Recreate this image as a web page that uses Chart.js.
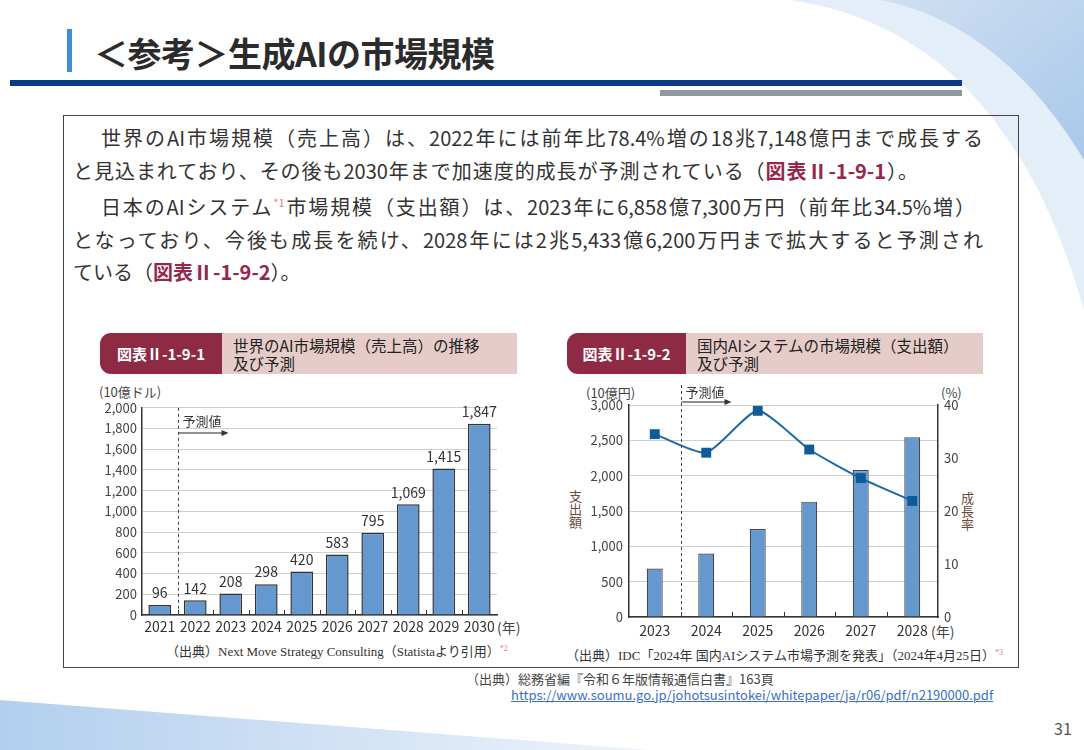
<!DOCTYPE html>
<html lang="ja">
<head>
<meta charset="utf-8">
<script src="https://cdn.jsdelivr.net/npm/chart.js@4.4.1/dist/chart.umd.min.js"></script>
<style>
  html, body { margin: 0; padding: 0; }
  body { width: 1084px; height: 750px; position: relative; overflow: hidden; background: #fff;
         font-family: "Noto Sans CJK JP", "Noto Sans", sans-serif; color: #333; }
  .abs { position: absolute; white-space: nowrap; }
  .line { position: absolute; font-size: 20px; line-height: 28px; color: #333; white-space: nowrap; }
  .just { text-align: justify; text-align-last: justify; }
  .ref { color: #95284a; font-weight: bold; }
  .note { color: #e07c8c; font-size: 11px; position: relative; top: -8px; }
  .tag { position: absolute; background: #8f2a45; color: #fff; font-weight: bold; font-size: 15px;
         border-radius: 11px 0 0 11px; display: flex; align-items: center; justify-content: center; }
  .cap { position: absolute; background: #e6ccc8; color: #222; font-size: 15.5px; line-height: 18px;
         padding: 3px 0 0 11px; box-sizing: border-box; }
  .src { font-size: 13px; color: #333; font-family: 'Liberation Serif', 'Noto Sans CJK JP', serif; }
  canvas { position: absolute; }
</style>
</head>
<body>
<svg class="abs" style="left:0;top:0" width="1084" height="750">
  <defs>
    <linearGradient id="gtr" x1="0" y1="0" x2="1" y2="1">
      <stop offset="0" stop-color="#cfe0f2"/>
      <stop offset="1" stop-color="#a9c8e9"/>
    </linearGradient>
    <linearGradient id="gbl" x1="0" y1="0" x2="1" y2="0">
      <stop offset="0" stop-color="#b2cfee"/>
      <stop offset="1" stop-color="#eef4fb"/>
    </linearGradient>
  </defs>
  <path d="M 790 0 C 930 20 1030 120 1084 310 L 1084 0 Z" fill="#e4eef8"/>
  <path d="M 880 0 C 960 15 1030 70 1084 160 L 1084 0 Z" fill="url(#gtr)"/>
  <path d="M 0 700 L 650 750 L 0 750 Z" fill="url(#gbl)"/>
</svg>

<!-- header -->
<div class="abs" style="left:67px;top:29px;width:5px;height:43px;background:#3d8fd1"></div>
<div class="abs" style="left:94px;top:28px;font-size:34px;font-weight:bold;color:#2b2b2b;letter-spacing:-0.5px">＜参考＞生成AIの市場規模</div>
<div class="abs" style="left:10px;top:80px;width:952px;height:6px;background:#0b3a85"></div>
<div class="abs" style="left:660px;top:90px;width:302px;height:6px;background:#8e999f"></div>

<!-- frame -->
<div class="abs" style="left:63px;top:115px;width:956px;height:553px;border:1px solid #444;box-sizing:border-box"></div>

<div class="line just" style="left:79px;top:124px;width:904px">　世界のAI市場規模（売上高）は、2022年には前年比78.4%増の18兆7,148億円まで成長する</div>
<div class="line just" style="left:73px;top:157px;width:845px">と見込まれており、その後も2030年まで加速度的成長が予測されている（<span class="ref">図表Ⅱ-1-9-1</span>）。</div>
<div class="line just" style="left:79px;top:193px;width:896px">　日本のAIシステム<span class="note">*1</span>市場規模（支出額）は、2023年に6,858億7,300万円（前年比34.5%増）</div>
<div class="line just" style="left:73px;top:226px;width:910px">となっており、今後も成長を続け、2028年には2兆5,433億6,200万円まで拡大すると予測され</div>
<div class="line" style="left:73px;top:258px">ている（<span class="ref">図表Ⅱ-1-9-2</span>）。</div>

<!-- chart headings -->
<div class="tag" style="left:100px;top:333px;width:122px;height:41px">図表Ⅱ-1-9-1</div>
<div class="cap" style="left:222px;top:333px;width:295px;height:41px">世界のAI市場規模（売上高）の推移<br>及び予測</div>
<div class="tag" style="left:567px;top:333px;width:119px;height:41px">図表Ⅱ-1-9-2</div>
<div class="cap" style="left:686px;top:333px;width:297px;height:41px">国内AIシステムの市場規模（支出額）<br>及び予測</div>

<!-- axis units -->
<div class="abs" style="left:99px;top:382px;font-size:13px;color:#444">(10億ドル)</div>
<div class="abs" style="left:497px;top:617px;font-size:14px;color:#444">(年)</div>
<div class="abs" style="left:586px;top:383px;font-size:13px;color:#444">(10億円)</div>
<div class="abs" style="left:941px;top:383px;font-size:13px;color:#444">(%)</div>
<div class="abs" style="left:569px;top:490px;font-size:13px;line-height:13px;color:#6b4a3a;writing-mode:vertical-rl">支出額</div>
<div class="abs" style="left:961px;top:492px;font-size:13px;line-height:13px;color:#6b4a3a;writing-mode:vertical-rl">成長率</div>
<div class="abs" style="left:931px;top:621px;font-size:14px;color:#444">(年)</div>

<canvas id="chartWorld" width="410" height="245" style="left:95px;top:395px"></canvas>
<canvas id="chartJapan" width="378" height="262" style="left:590px;top:378px"></canvas>

<!-- sources -->
<div class="abs src" style="left:166px;top:641px">（出典）Next Move Strategy Consulting（Statistaより引用）<span style="color:#e07c8c;font-size:8px;position:relative;top:-5px">*2</span></div>
<div class="abs src" style="left:566px;top:645px">（出典）IDC「2024年 国内AIシステム市場予測を発表」（2024年4月25日）<span style="color:#e07c8c;font-size:8px;position:relative;top:-5px">*3</span></div>
<div class="abs" style="left:466px;top:669px;font-size:13px;color:#444">（出典）総務省編『令和６年版情報通信白書』163頁</div>
<div class="abs" style="left:511px;top:685px;font-size:13px;color:#3a6fc4;text-decoration:underline">https://www.soumu.go.jp/johotsusintokei/whitepaper/ja/r06/pdf/n2190000.pdf</div>
<div class="abs" style="left:1054px;top:716px;font-size:16px;color:#555">31</div>

<script>
// 図表Ⅱ-1-9-1
const worldYears = ['2021', '2022', '2023', '2024', '2025', '2026', '2027', '2028', '2029', '2030'];
const worldSales = [96, 142, 208, 298, 420, 583, 795, 1069, 1415, 1847];
const worldTicks = [0, 200, 400, 600, 800, 1000, 1200, 1400, 1600, 1800, 2000];

// 図表Ⅱ-1-9-2
const japanYears = ['2023', '2024', '2025', '2026', '2027', '2028'];
const japanSpend = [686, 898, 1245, 1632, 2080, 2543];
const japanGrowth = [34.5, 31.0, 38.9, 31.6, 26.2, 21.9];
const japanSpendTicks = [0, 500, 1000, 1500, 2000, 2500, 3000];
const japanGrowthTicks = [0, 10, 20, 30, 40];

const FONT = '"Noto Sans CJK JP", "Noto Sans", sans-serif';
const tickFont = { family: FONT, size: 13 };

function fmt(v) { return Number(v).toLocaleString('en-US'); }

// 予測値の破線・矢印、区切りの目盛り
function forecastPlugin(lineTop, textY, arrowY, labels) {
  return {
    id: 'forecast',
    afterDatasetsDraw(chart) {
      const { ctx, chartArea, scales } = chart;
      const x = scales.x;
      ctx.save();
      // category boundary marks
      ctx.strokeStyle = '#333';
      ctx.lineWidth = 1;
      for (let i = 1; i < chart.data.labels.length; i++) {
        const bx = Math.round((x.getPixelForValue(i - 1) + x.getPixelForValue(i)) / 2) + 0.5;
        ctx.beginPath();
        ctx.moveTo(bx, chartArea.bottom);
        ctx.lineTo(bx, chartArea.bottom - 5);
        ctx.stroke();
      }
      const dx = Math.round((x.getPixelForValue(0) + x.getPixelForValue(1)) / 2) + 0.5;
      ctx.setLineDash([3, 3]);
      ctx.strokeStyle = '#444';
      ctx.beginPath();
      ctx.moveTo(dx, lineTop === null ? chartArea.top : lineTop);
      ctx.lineTo(dx, chartArea.bottom);
      ctx.stroke();
      ctx.setLineDash([]);
      ctx.fillStyle = '#333';
      ctx.font = '13px ' + FONT;
      ctx.textAlign = 'left';
      ctx.textBaseline = 'middle';
      ctx.fillText('予測値', dx + 4, textY);
      ctx.strokeStyle = '#222';
      ctx.lineWidth = 1.2;
      ctx.beginPath();
      ctx.moveTo(dx, arrowY);
      ctx.lineTo(dx + 44, arrowY);
      ctx.stroke();
      ctx.beginPath();
      ctx.moveTo(dx + 50, arrowY);
      ctx.lineTo(dx + 43, arrowY - 3);
      ctx.lineTo(dx + 43, arrowY + 3);
      ctx.closePath();
      ctx.fill();
      // data labels
      if (labels) {
        const meta = chart.getDatasetMeta(0);
        ctx.font = '14px ' + FONT;
        ctx.textAlign = 'center';
        ctx.textBaseline = 'middle';
        ctx.fillStyle = '#333';
        meta.data.forEach((bar, i) => {
          ctx.fillText(fmt(chart.data.datasets[0].data[i]), bar.x, bar.y - 12);
        });
      }
      ctx.restore();
    }
  };
}

new Chart(document.getElementById('chartWorld'), {
  type: 'bar',
  data: {
    labels: worldYears,
    datasets: [{
      data: worldSales,
      backgroundColor: '#6698d0',
      borderColor: '#333',
      borderWidth: 1.5,
      barPercentage: 0.64,
      categoryPercentage: 1
    }]
  },
  options: {
    responsive: false,
    animation: false,
    layout: { padding: { top: 10, right: 8, left: 0, bottom: 0 } },
    plugins: { legend: { display: false }, tooltip: { enabled: false } },
    scales: {
      x: {
        grid: { display: false, drawTicks: false },
        border: { color: '#333', width: 1.5 },
        ticks: { font: { family: FONT, size: 14 }, color: '#333', padding: 3, maxRotation: 0, autoSkip: false },
        afterFit(s) { s.height = 25; }
      },
      y: {
        min: 0, max: 2000,
        afterBuildTicks(s) { s.ticks = worldTicks.map(v => ({ value: v })); },
        grid: { color: '#cfcfcf', drawTicks: false },
        border: { color: '#333', width: 1.5 },
        ticks: { font: tickFont, color: '#444', padding: 5, callback: v => fmt(v) },
        afterFit(s) { s.width = 47; }
      }
    }
  },
  plugins: [forecastPlugin(null, 26, 38, true)]
});

new Chart(document.getElementById('chartJapan'), {
  type: 'bar',
  data: {
    labels: japanYears,
    datasets: [{
      type: 'line',
      data: japanGrowth,
      yAxisID: 'y1',
      order: 0,
      borderColor: '#1d69a6',
      borderWidth: 2,
      tension: 0.2,
      pointStyle: 'rect',
      pointRadius: 7,
      pointBackgroundColor: '#0d5c99',
      pointBorderWidth: 0
    }, {
      data: japanSpend,
      yAxisID: 'y',
      order: 1,
      backgroundColor: '#6698d0',
      borderColor: '#444',
      borderWidth: 1.2,
      barPercentage: 0.31,
      categoryPercentage: 1
    }]
  },
  options: {
    responsive: false,
    animation: false,
    layout: { padding: { top: 27, right: 0, left: 0, bottom: 0 } },
    plugins: { legend: { display: false }, tooltip: { enabled: false } },
    scales: {
      x: {
        grid: { display: false, drawTicks: false },
        border: { color: '#333', width: 1.5 },
        ticks: { font: { family: FONT, size: 14 }, color: '#333', padding: 5, maxRotation: 0 },
        afterFit(s) { s.height = 23; }
      },
      y: {
        position: 'left',
        min: 0, max: 3000,
        afterBuildTicks(s) { s.ticks = japanSpendTicks.map(v => ({ value: v })); },
        grid: { color: '#cfcfcf', drawTicks: false },
        border: { color: '#333', width: 1.5 },
        ticks: { font: tickFont, color: '#444', padding: 6, callback: v => fmt(v) },
        afterFit(s) { s.width = 39; }
      },
      y1: {
        position: 'right',
        min: 0, max: 40,
        afterBuildTicks(s) { s.ticks = japanGrowthTicks.map(v => ({ value: v })); },
        grid: { display: false, drawTicks: false },
        border: { color: '#333', width: 1.5 },
        ticks: { font: tickFont, color: '#444', padding: 6 },
        afterFit(s) { s.width = 30; }
      }
    }
  },
  plugins: [forecastPlugin(7, 14, 24, false)]
});
</script>
</body>
</html>
